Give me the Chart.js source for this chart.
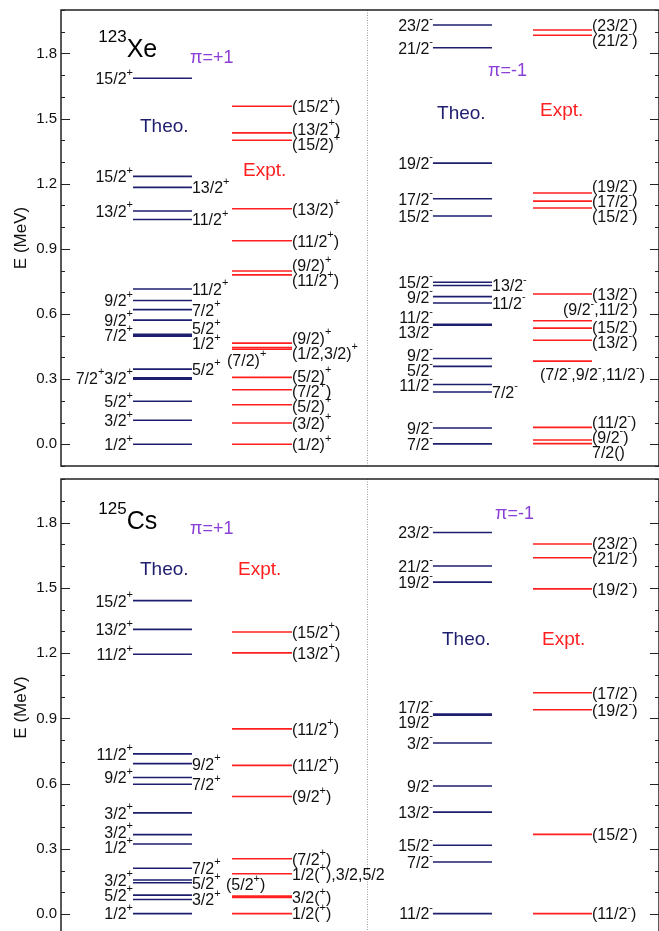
<!DOCTYPE html>
<html>
<head>
<meta charset="utf-8">
<script src="https://cdn.jsdelivr.net/npm/chart.js@4.4.1/dist/chart.umd.min.js"></script>
<style>
  html, body { margin: 0; padding: 0; background: #fff; overflow: hidden; }
  #wrap { position: relative; width: 659px; height: 931px; }
  canvas { position: absolute; left: 0; }
</style>
</head>
<body>
<div id="wrap">
  <canvas id="xe" width="659" height="469" style="top:0px"></canvas>
  <canvas id="cs" width="659" height="470" style="top:469px"></canvas>
</div>
<script>
// ---- level energies (MeV) and spin labels ----
// 123Xe, positive parity
const xeTheoPlusE = [1.686, 1.234, 1.183, 1.074, 1.035, 0.715, 0.662, 0.620, 0.572, 0.507, 0.502, 0.498, 0.346, 0.306, 0.300, 0.198, 0.111, 0.000];
const xeTheoPlusJ = ['15/2^+', '15/2^+', '13/2^+', '13/2^+', '11/2^+', '11/2^+', '9/2^+', '7/2^+', '9/2^+', '7/2^+', '5/2^+', '1/2^+', '5/2^+', '7/2^+3/2^+', '', '5/2^+', '3/2^+', '1/2^+'];
const xeExptPlusE = [1.557, 1.434, 1.400, 1.085, 0.937, 0.798, 0.780, 0.466, 0.446, 0.438, 0.308, 0.251, 0.182, 0.098, 0.000];
const xeExptPlusJ = ['(15/2^+)', '(13/2^+)', '(15/2)^+', '(13/2)^+', '(11/2^+)', '(9/2)^+', '(11/2^+)', '(9/2)^+', '(1/2,3/2)^+', '(7/2)^+', '(5/2)^+', '(7/2^+)', '(5/2)^+', '(3/2)^+', '(1/2)^+'];
// 123Xe, negative parity
const xeTheoMinusE = [1.931, 1.826, 1.295, 1.131, 1.051, 0.746, 0.731, 0.680, 0.651, 0.552, 0.548, 0.395, 0.359, 0.275, 0.241, 0.075, 0.002];
const xeTheoMinusJ = ['23/2^-', '21/2^-', '19/2^-', '17/2^-', '15/2^-', '15/2^-', '13/2^-', '9/2^-', '11/2^-', '11/2^-', '13/2^-', '9/2^-', '5/2^-', '11/2^-', '7/2^-', '9/2^-', '7/2^-'];
const xeExptMinusE = [1.908, 1.884, 1.157, 1.120, 1.088, 0.692, 0.569, 0.535, 0.479, 0.383, 0.078, 0.020, 0.003];
const xeExptMinusJ = ['(23/2^-)', '(21/2^-)', '(19/2^-)', '(17/2^-)', '(15/2^-)', '(13/2^-)', '(9/2^-,11/2^-)', '(15/2^-)', '(13/2^-)', '(7/2^-,9/2^-,11/2^-)', '(11/2^-)', '(9/2^-)', '7/2()'];
// 125Cs, positive parity
const csTheoPlusE = [1.441, 1.309, 1.195, 0.737, 0.692, 0.628, 0.597, 0.466, 0.366, 0.323, 0.211, 0.157, 0.145, 0.088, 0.068, 0.003];
const csTheoPlusJ = ['15/2^+', '13/2^+', '11/2^+', '11/2^+', '9/2^+', '9/2^+', '7/2^+', '3/2^+', '3/2^+', '1/2^+', '7/2^+', '3/2^+', '5/2^+', '5/2^+', '3/2^+', '1/2^+'];
const csExptPlusE = [1.297, 1.201, 0.852, 0.684, 0.541, 0.255, 0.186, 0.084, 0.077, 0.003];
const csExptPlusJ = ['(15/2^+)', '(13/2^+)', '(11/2^+)', '(11/2^+)', '(9/2^+)', '(7/2^+)', '1/2(^+),3/2,5/2', '(5/2^+)', '3/2(^+)', '1/2(^+)'];
// 125Cs, negative parity
const csTheoMinusE = [1.754, 1.600, 1.526, 0.920, 0.915, 0.787, 0.589, 0.469, 0.317, 0.240, 0.003];
const csTheoMinusJ = ['23/2^-', '21/2^-', '19/2^-', '17/2^-', '19/2^-', '3/2^-', '9/2^-', '13/2^-', '15/2^-', '7/2^-', '11/2^-'];
const csExptMinusE = [1.701, 1.638, 1.495, 1.018, 0.940, 0.367, 0.003];
const csExptMinusJ = ['(23/2^-)', '(21/2^-)', '(19/2^-)', '(17/2^-)', '(19/2^-)', '(15/2^-)', '(11/2^-)'];

// y axis range / ticks (MeV)
const yMin = -0.1, yMax = 2.0, yStep = 0.1;

// ---- layout (label side: L left of line, R right of line, N nudged) ----
const xeTheoPlusSide  = ['L','L','R','L','R','R','L','R','L','L','R','R','R','L','L','L','L','L'];
const xeTheoMinusSide = ['L','L','L','L','L','L','R','L','R','L','L','L','L','L','R','L','L'];
const csTheoPlusSide  = ['L','L','L','L','R','L','R','L','L','L','R','L','R','L','R','L'];
const labelNudge = {            // [dx, dy] in px from line start, for labels set off the line
  '(7/2)^+': [-5, 12],
  '(7/2^-,9/2^-,11/2^-)': [7, 14],
  '(9/2^-,11/2^-)': [30, -10],
  '(5/2^+)': [-6, -10]
};
const colX = { theoPlus: [12.04, 21.9], exptPlus: [28.6, 38.63], theoMinus: [62.2, 72.07], exptMinus: [78.93, 88.8] };
const dividerX = 51.17;

const FONT = '"Liberation Sans", Arial, Helvetica, sans-serif';
const NAVY = '#1e1e6e';
const RED = '#ff1f1f';
const PURPLE = '#8a3fd6';

function richParts(s) {
  const parts = [];
  let buf = '';
  for (let i = 0; i < s.length; i++) {
    if (s[i] === '^') {
      if (buf) parts.push({ t: buf, sup: false });
      buf = '';
      parts.push({ t: s[i + 1], sup: true });
      i++;
    } else buf += s[i];
  }
  if (buf) parts.push({ t: buf, sup: false });
  return parts;
}

function drawRich(ctx, s, x, y, align, size, color) {
  const parts = richParts(s);
  const supSize = Math.round(size * 0.68);
  let w = 0;
  parts.forEach(p => {
    ctx.font = (p.sup ? supSize : size) + 'px ' + FONT;
    p.w = ctx.measureText(p.t).width;
    w += p.w;
  });
  let cx = align === 'right' ? x - w : x;
  ctx.fillStyle = color;
  ctx.textAlign = 'left';
  ctx.textBaseline = 'middle';
  parts.forEach(p => {
    ctx.font = (p.sup ? supSize : size) + 'px ' + FONT;
    ctx.fillText(p.t, cx, p.sup ? y - size * 0.45 : y);
    cx += p.w;
  });
}

// push labels on the same side apart so they don't overlap
function spread(list, gap) {
  list.sort((a, b) => a.py - b.py);
  for (let it = 0; it < 200; it++) {
    let moved = false;
    for (let i = 0; i < list.length - 1; i++) {
      const d = list[i + 1].py - list[i].py;
      if (d < gap - 0.01) {
        const s = (gap - d) / 2;
        list[i].py -= s;
        list[i + 1].py += s;
        moved = true;
      }
    }
    if (!moved) break;
  }
}

function makePanel(canvasId, panel) {
  const datasets = panel.columns.map(col => ({
    data: col.E.flatMap(e => [{ x: col.x[0], y: e }, { x: col.x[1], y: e }, { x: col.x[1], y: null }]),
    borderColor: col.color,
    borderWidth: 1.6,
    pointRadius: 0,
    spanGaps: false,
    tension: 0,
    fill: false
  }));

  const levelPlugin = {
    id: 'levels_' + canvasId,
    afterDraw(chart) {
      const { ctx, chartArea: a, scales: { x, y } } = chart;
      ctx.save();
      // divider
      ctx.strokeStyle = '#9a9a9a';
      ctx.lineWidth = 1;
      ctx.setLineDash([1, 1.5]);
      const dx = Math.round(x.getPixelForValue(dividerX)) + 0.5;
      ctx.beginPath(); ctx.moveTo(dx, a.top); ctx.lineTo(dx, a.bottom); ctx.stroke();
      ctx.setLineDash([]);
      // frame
      ctx.strokeStyle = '#222';
      ctx.lineWidth = 1.5;
      ctx.strokeRect(a.left, a.top, a.right - a.left, a.bottom - a.top);
      // ticks on both sides, pointing inward
      ctx.lineWidth = 1;
      y.ticks.forEach(t => {
        const k = Math.round(t.value * 10);
        const len = (k % 3 === 0) ? 9 : 4;
        const py = Math.round(y.getPixelForValue(t.value)) + 0.5;
        ctx.beginPath();
        ctx.moveTo(a.left, py); ctx.lineTo(a.left + len, py);
        ctx.moveTo(a.right, py); ctx.lineTo(a.right - len, py);
        ctx.stroke();
      });
      // axis title
      ctx.save();
      ctx.translate(21, (a.top + a.bottom) / 2);
      ctx.rotate(-Math.PI / 2);
      ctx.font = '17px ' + FONT;
      ctx.fillStyle = '#111';
      ctx.textAlign = 'center';
      ctx.textBaseline = 'middle';
      ctx.fillText('E (MeV)', 0, 0);
      ctx.restore();

      // level labels
      panel.columns.forEach(col => {
        const x0 = x.getPixelForValue(col.x[0]);
        const x1 = x.getPixelForValue(col.x[1]);
        const left = [], right = [];
        col.J.forEach((j, i) => {
          if (!j) return;
          const py = y.getPixelForValue(col.E[i]) + 1.5;
          const nudge = labelNudge[j];
          if (nudge) {
            drawRich(ctx, j, x0 + nudge[0], py - 1.5 + nudge[1], 'left', 16, '#111');
            return;
          }
          const side = col.side ? col.side[i] : 'R';
          (side === 'L' ? left : right).push({ j, py });
        });
        spread(left, 15);
        spread(right, 15);
        left.forEach(l => drawRich(ctx, l.j, x0, l.py, 'right', 16, '#111'));
        right.forEach(r => drawRich(ctx, r.j, x1, r.py, 'left', 16, '#111'));
      });

      // panel annotations
      panel.notes.forEach(n => {
        const px = x.getPixelForValue(n.x);
        const py = y.getPixelForValue(n.y);
        ctx.fillStyle = n.color;
        ctx.textAlign = 'left';
        ctx.textBaseline = 'middle';
        ctx.font = n.size + 'px ' + FONT;
        ctx.fillText(n.text, px, py);
      });
      const nx = x.getPixelForValue(panel.nuclide.x);
      const ny = y.getPixelForValue(panel.nuclide.y);
      ctx.fillStyle = '#000';
      ctx.textAlign = 'left';
      ctx.textBaseline = 'alphabetic';
      ctx.font = '17px ' + FONT;
      ctx.fillText(panel.nuclide.mass, nx, ny - 15);
      const mw = ctx.measureText(panel.nuclide.mass).width;
      ctx.font = '25px ' + FONT;
      ctx.fillText(panel.nuclide.sym, nx + mw, ny);
      ctx.restore();
    }
  };

  return new Chart(document.getElementById(canvasId), {
    type: 'line',
    data: { datasets },
    options: {
      responsive: false,
      animation: false,
      devicePixelRatio: 1,
      layout: { padding: { top: 10, bottom: 3, left: 0, right: 0 } },
      plugins: { legend: { display: false }, tooltip: { enabled: false } },
      scales: {
        x: { type: 'linear', min: 0, max: 100, display: false },
        y: {
          type: 'linear',
          min: yMin,
          max: yMax,
          afterFit: s => { s.width = 61; s.paddingTop = 0; s.paddingBottom = 0; },
          grid: { display: false, drawTicks: false },
          border: { display: false },
          ticks: {
            stepSize: yStep,
            autoSkip: false,
            padding: 4,
            color: '#111',
            font: { family: FONT, size: 15 },
            callback: v => {
              const k = Math.round(v * 10);
              return (k >= 0 && k % 3 === 0) ? (k / 10).toFixed(1) : '';
            }
          }
        }
      }
    },
    plugins: [levelPlugin]
  });
}

makePanel('xe', {
  nuclide: { mass: '123', sym: 'Xe', x: 6.24, y: 1.785 },
  columns: [
    { E: xeTheoPlusE, J: xeTheoPlusJ, side: xeTheoPlusSide, x: colX.theoPlus, color: NAVY },
    { E: xeExptPlusE, J: xeExptPlusJ, x: colX.exptPlus, color: RED },
    { E: xeTheoMinusE, J: xeTheoMinusJ, side: xeTheoMinusSide, x: colX.theoMinus, color: NAVY },
    { E: xeExptMinusE, J: xeExptMinusJ, x: colX.exptMinus, color: RED }
  ],
  notes: [
    { text: 'π=+1', x: 21.57, y: 1.779, color: PURPLE, size: 18 },
    { text: 'Theo.', x: 13.21, y: 1.463, color: NAVY, size: 19 },
    { text: 'Expt.', x: 30.43, y: 1.260, color: RED, size: 19 },
    { text: 'π=-1', x: 71.4, y: 1.717, color: PURPLE, size: 18 },
    { text: 'Theo.', x: 62.88, y: 1.523, color: NAVY, size: 19 },
    { text: 'Expt.', x: 80.1, y: 1.537, color: RED, size: 19 }
  ]
});

makePanel('cs', {
  nuclide: { mass: '125', sym: 'Cs', x: 6.24, y: 1.772 },
  columns: [
    { E: csTheoPlusE, J: csTheoPlusJ, side: csTheoPlusSide, x: colX.theoPlus, color: NAVY },
    { E: csExptPlusE, J: csExptPlusJ, x: colX.exptPlus, color: RED },
    { E: csTheoMinusE, J: csTheoMinusJ, side: csTheoMinusJ.map(() => 'L'), x: colX.theoMinus, color: NAVY },
    { E: csExptMinusE, J: csExptMinusJ, x: colX.exptMinus, color: RED }
  ],
  notes: [
    { text: 'π=+1', x: 21.57, y: 1.772, color: PURPLE, size: 18 },
    { text: 'Theo.', x: 13.21, y: 1.583, color: NAVY, size: 19 },
    { text: 'Expt.', x: 29.6, y: 1.583, color: RED, size: 19 },
    { text: 'π=-1', x: 72.57, y: 1.837, color: PURPLE, size: 18 },
    { text: 'Theo.', x: 63.71, y: 1.261, color: NAVY, size: 19 },
    { text: 'Expt.', x: 80.43, y: 1.261, color: RED, size: 19 }
  ]
});
</script>
</body>
</html>
